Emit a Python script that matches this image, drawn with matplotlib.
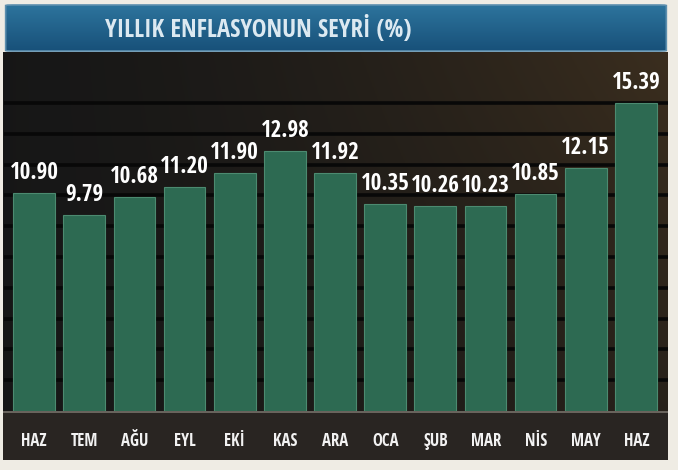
import numpy as np
import matplotlib.pyplot as plt
from matplotlib import font_manager
from matplotlib.font_manager import FontProperties
from matplotlib.textpath import TextPath
from matplotlib.patches import FancyBboxPatch, Rectangle

# data
months = ['HAZ', 'TEM', 'AĞU', 'EYL', 'EKİ', 'KAS', 'ARA', 'OCA', 'ŞUB', 'MAR', 'NİS', 'MAY', 'HAZ']
values = [10.90, 9.79, 10.68, 11.20, 11.90, 12.98, 11.92, 10.35, 10.26, 10.23, 10.85, 12.15, 15.39]
title = 'YILLIK ENFLASYONUN SEYRİ (%)'

# the TV graphic uses a narrow bold sans: pick the narrowest bold one among the usual families
families = ('liberation sans narrow', 'liberation sans', 'dejavu sans', 'roboto', 'roboto condensed',
            'open sans', 'open sans condensed', 'lato', 'inter', 'noto sans', 'noto sans condensed')
best, best_ratio = None, 1e9
for f in font_manager.fontManager.ttflist:
    w = f.weight if isinstance(f.weight, int) else {'bold': 700, 'semibold': 600, 'demibold': 600}.get(f.weight, 400)
    low = f.fname.lower()
    if f.name.lower() not in families or w < 600 or 'italic' in low or 'oblique' in low:
        continue
    try:
        ext = TextPath((0, 0), '10.90', size=10, prop=FontProperties(fname=f.fname)).get_extents()
    except Exception:
        continue
    if ext.height <= 0:
        continue
    ratio = ext.width / ext.height
    if ratio < best_ratio:
        best, best_ratio = f.fname, ratio
fp = FontProperties(fname=best) if best else FontProperties(family='DejaVu Sans', weight='bold')


def fit_size(s, h_px, w_px):
    # fontsize (pt) so the text's ink is about h_px tall but no wider than w_px
    e = TextPath((0, 0), s, size=1, prop=fp).get_extents()
    px = min(h_px / e.height, w_px / e.width)
    return px * 72 / 100


val_size = fit_size('10.90', 20, 47)
mon_size = fit_size('HAZ', 12, 26)
tit_size = fit_size('YILLIK ENFLASYONUN SEYRI (%)', 22, 318)

W, H = 678, 470
fig = plt.figure(figsize=(W / 100, H / 100), dpi=100)
fig.patch.set_facecolor('#efece4')


def fx(px):
    return px / W


def fy(py):
    return 1 - py / H


# background panel (whole dark box incl. label band)
bg = fig.add_axes([fx(3), fy(460), fx(665), (460 - 52) / H])
bg.set_axis_off()
grad = np.linspace(0, 1, 256)
xx, yy = np.meshgrid(grad, grad)
k = xx ** 1.5 * (1 - 0.6 * yy)
r = 0.09 + 0.14 * k
g = 0.09 + 0.09 * k
b = 0.09 + 0.03 * k
bg.imshow(np.dstack([r, g, b]), extent=[0, 1, 0, 1], aspect='auto', origin='upper')
bg.add_patch(Rectangle((0, 0), 1, (460 - 412) / (460 - 52), color='#292522', zorder=2))
bg.axhline((460 - 412) / (460 - 52), color='#77716a', lw=1.2, zorder=3)
bg.set_xlim(0, 1)
bg.set_ylim(0, 1)

# bars
ax = fig.add_axes([fx(4), fy(411), fx(664), (411 - 56) / H])
ax.patch.set_alpha(0)
x = np.arange(len(values))
for gy in np.arange(15.4, 0, -1.54):
    ax.axhline(gy, color='#080808', lw=2.6, zorder=1)
ax.bar(x, values, width=0.83, color='#2d6a52', edgecolor='#4c8a70', linewidth=0.8, zorder=2)
for xi, v in zip(x, values):
    ax.text(xi, v + 0.4, f'{v:.2f}', ha='center', va='bottom', color='white',
            fontproperties=fp, fontsize=val_size, zorder=3)
ax.set_xlim(-0.6, 12.64)
ax.set_ylim(0, 17.75)
ax.set_axis_off()

# month labels
for xi, m in zip(x, months):
    px = 34 + xi * 50.2
    fig.text(fx(px), fy(441), m, ha='center', va='center', color='#f2f2f2',
             fontproperties=fp, fontsize=mon_size)

# title bar
tb = fig.add_axes([fx(3), fy(53), fx(666), 50 / H])
tb.set_axis_off()
tb.set_xlim(0, 1)
tb.set_ylim(0, 1)
tgrad = np.linspace(0, 1, 64).reshape(-1, 1)
cols = np.array([[0.18, 0.46, 0.62]]) * (1 - tgrad) + np.array([[0.09, 0.31, 0.47]]) * tgrad
img = tb.imshow(cols.reshape(64, 1, 3), extent=[0, 1, 0, 1], aspect='auto', origin='upper')
box = FancyBboxPatch((0.004, 0.04), 0.992, 0.92, boxstyle='round,pad=0,rounding_size=0.01',
                     transform=tb.transAxes, facecolor='none', edgecolor='#5d8fae', lw=1.2)
tb.add_patch(box)
img.set_clip_path(box)
tb.text((258 - 3) / 666, 0.47, title, ha='center', va='center', color='#dce9f1',
        fontproperties=fp, fontsize=tit_size)

fig.savefig('out.png', dpi=100, facecolor=fig.get_facecolor())
